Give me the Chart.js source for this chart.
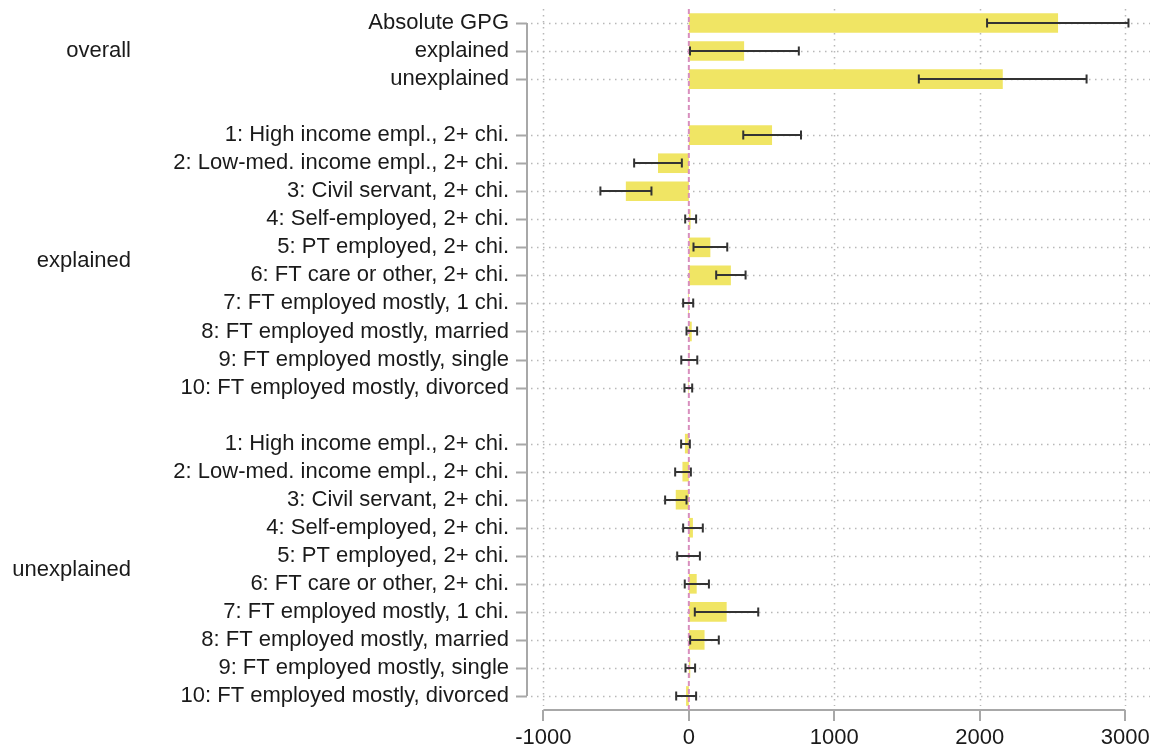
<!DOCTYPE html>
<html>
<head>
<meta charset="utf-8">
<script src="https://cdn.jsdelivr.net/npm/chart.js@4.4.1/dist/chart.umd.min.js"></script>
<style>
  body { margin: 0; background: #fff; }
  #wrap { width: 1164px; height: 753px; position: relative; }
</style>
</head>
<body>
<div id="wrap"><canvas id="gapChart"></canvas></div>
<script>
// categories ('' = spacer row between groups)
const categories = [
  "Absolute GPG", "explained", "unexplained", "",
  "1: High income empl., 2+ chi.", "2: Low-med. income empl., 2+ chi.", "3: Civil servant, 2+ chi.",
  "4: Self-employed, 2+ chi.", "5: PT employed, 2+ chi.", "6: FT care or other, 2+ chi.",
  "7: FT employed mostly, 1 chi.", "8: FT employed mostly, married", "9: FT employed mostly, single",
  "10: FT employed mostly, divorced", "",
  "1: High income empl., 2+ chi.", "2: Low-med. income empl., 2+ chi.", "3: Civil servant, 2+ chi.",
  "4: Self-employed, 2+ chi.", "5: PT employed, 2+ chi.", "6: FT care or other, 2+ chi.",
  "7: FT employed mostly, 1 chi.", "8: FT employed mostly, married", "9: FT employed mostly, single",
  "10: FT employed mostly, divorced"
];
const estimates = [
  2538, 380, 2158, null,
  572, -212, -433, 12, 148, 289, -5, 20, 3, -4, null,
  -27, -44, -90, 28, -2, 54, 260, 108, 10, -19
];
const ciLow = [
  2050, 8, 1581, null,
  374, -376, -608, -25, 32, 188, -39, -16, -52, -30, null,
  -53, -94, -163, -39, -80, -28, 41, 9, -23, -87
];
const ciHigh = [
  3022, 756, 2734, null,
  771, -48, -257, 50, 264, 390, 30, 57, 58, 23, null,
  7, 14, -16, 96, 76, 138, 477, 206, 43, 50
];
const groupNames = ["overall", "explained", "unexplained"];
const groupFirst = [0, 4, 15];
const groupLast = [2, 13, 24];
const xTicks = [-1000, 0, 1000, 2000, 3000];

const FONT = "'Liberation Sans', Arial, sans-serif";
const AXIS_GRAY = "#a8a8a8";

// dotted grid, axis lines, zero line, error bars and group labels
const decorations = {
  id: "decorations",
  beforeDatasetsDraw(chart) {
    const { ctx, chartArea, scales: { x, y } } = chart;
    ctx.save();
    ctx.strokeStyle = "#b8b8b8";
    ctx.lineWidth = 1.5;
    ctx.setLineDash([1.5, 4.5]);
    xTicks.forEach((v) => {
      if (v === 0) return;
      const px = Math.round(x.getPixelForValue(v)) + 0.5;
      ctx.beginPath();
      ctx.moveTo(px, chartArea.top);
      ctx.lineTo(px, chartArea.bottom - 4);
      ctx.stroke();
    });
    categories.forEach((c, i) => {
      if (c === "") return;
      const py = Math.round(y.getPixelForValue(i)) + 0.5;
      ctx.beginPath();
      ctx.moveTo(chartArea.left, py);
      ctx.lineTo(chartArea.right, py);
      ctx.stroke();
    });
    ctx.setLineDash([]);

    // y axis line + ticks
    ctx.strokeStyle = AXIS_GRAY;
    ctx.lineWidth = 2;
    const yTop = y.getPixelForValue(0);
    const yBot = y.getPixelForValue(categories.length - 1);
    const ax = chartArea.left - 4;
    ctx.beginPath();
    ctx.moveTo(ax, yTop);
    ctx.lineTo(ax, yBot);
    categories.forEach((c, i) => {
      if (c === "") return;
      const py = Math.round(y.getPixelForValue(i)) + 0.5;
      ctx.moveTo(ax, py);
      ctx.lineTo(ax - 11, py);
    });
    ctx.stroke();

    // x axis line + ticks
    const xl = x.getPixelForValue(xTicks[0]);
    const xr = x.getPixelForValue(xTicks[xTicks.length - 1]);
    const by = chartArea.bottom;
    ctx.beginPath();
    ctx.moveTo(xl, by);
    ctx.lineTo(xr, by);
    xTicks.forEach((v) => {
      const px = Math.round(x.getPixelForValue(v));
      ctx.moveTo(px, by);
      ctx.lineTo(px, by + 11);
    });
    ctx.stroke();

    // group labels
    ctx.fillStyle = "#1a1a1a";
    ctx.font = "22px " + FONT;
    ctx.textAlign = "right";
    ctx.textBaseline = "middle";
    groupNames.forEach((g, k) => {
      const py = (y.getPixelForValue(groupFirst[k]) + y.getPixelForValue(groupLast[k])) / 2;
      ctx.fillText(g, 131, py);
    });
    ctx.restore();
  },
  afterDatasetsDraw(chart) {
    const { ctx, chartArea, scales: { x, y } } = chart;
    ctx.save();
    // zero reference line
    ctx.strokeStyle = "#d88fbe";
    ctx.lineWidth = 2;
    ctx.setLineDash([5, 3]);
    const zx = x.getPixelForValue(0);
    ctx.beginPath();
    ctx.moveTo(zx, chartArea.top);
    ctx.lineTo(zx, chartArea.bottom);
    ctx.stroke();
    ctx.setLineDash([]);

    // confidence intervals
    ctx.strokeStyle = "#333333";
    ctx.lineWidth = 2;
    ciLow.forEach((lo, i) => {
      if (lo === null) return;
      const py = Math.round(y.getPixelForValue(i));
      const x1 = x.getPixelForValue(lo);
      const x2 = x.getPixelForValue(ciHigh[i]);
      ctx.beginPath();
      ctx.moveTo(x1, py);
      ctx.lineTo(x2, py);
      ctx.moveTo(x1, py - 4.5);
      ctx.lineTo(x1, py + 4.5);
      ctx.moveTo(x2, py - 4.5);
      ctx.lineTo(x2, py + 4.5);
      ctx.stroke();
    });
    ctx.restore();
  }
};

const ctx = document.getElementById("gapChart").getContext("2d");
new Chart(ctx, {
  type: "bar",
  data: {
    labels: categories,
    datasets: [
      {
        data: estimates,
        backgroundColor: "#f0e564",
        borderWidth: 0,
        categoryPercentage: 1,
        barPercentage: 0.7,
      },
    ],
  },
  options: {
    indexAxis: "y",
    responsive: true,
    maintainAspectRatio: false,
    animation: false,
    layout: { padding: { top: 9, right: 14, left: 0, bottom: 0 } },
    plugins: {
      legend: { display: false },
      tooltip: { enabled: false },
    },
    scales: {
      x: {
        type: "linear",
        min: -1085,
        max: 3170,
        afterBuildTicks: (scale) => {
          scale.ticks = xTicks.map((v) => ({ value: v }));
        },
        afterFit: (scale) => {
          scale.height = 43;
          scale.paddingLeft = 0;
          scale.paddingRight = 0;
        },
        grid: { display: false },
        border: { display: false },
        ticks: {
          color: "#1a1a1a",
          font: { size: 22, family: FONT },
          padding: 7,
          maxRotation: 0,
          autoSkip: false,
          callback: (v) => String(v),
        },
      },
      y: {
        type: "category",
        offset: true,
        afterFit: (scale) => {
          scale.width = 531;
          scale.paddingTop = 0;
          scale.paddingBottom = 0;
        },
        grid: { display: false },
        border: { display: false },
        ticks: {
          color: "#1a1a1a",
          font: { size: 22, family: FONT },
          padding: 14,
          autoSkip: false,
        },
      },
    },
  },
  plugins: [decorations],
});
</script>
</body>
</html>
